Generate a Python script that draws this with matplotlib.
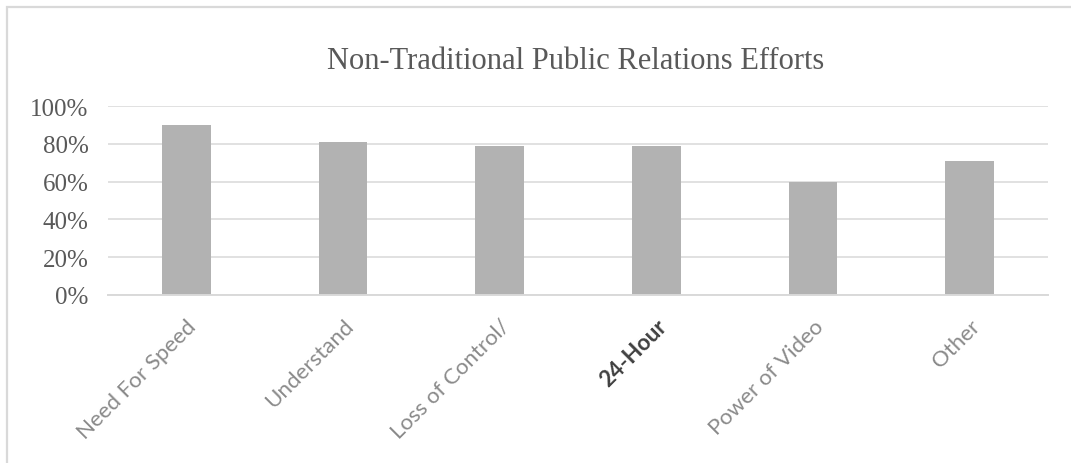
import matplotlib.pyplot as plt
from matplotlib.patches import Rectangle
from matplotlib.ticker import PercentFormatter

categories = ['Need For Speed', 'Understand', 'Loss of Control/', '24-Hour',
              'Power of Video', 'Other']
values = [0.90, 0.81, 0.79, 0.79, 0.60, 0.71]
y_ticks = [0, 0.2, 0.4, 0.6, 0.8, 1.0]

fig = plt.figure(figsize=(10.71, 4.64), dpi=100)
ax = fig.add_axes([0.1008, 0.3627, 0.8777, 0.4060])

# outer chart frame (only top/left visible in the crop)
fig.add_artist(Rectangle((7 / 1071, -0.2), 1.2, 1.2 - 8 / 464,
                         transform=fig.transFigure, fill=False,
                         edgecolor='#d9d9d9', linewidth=1.6, clip_on=False))

x = range(len(categories))
ax.bar(x, values, width=0.31, color='#b2b2b2', zorder=3)

ax.set_xlim(-0.5, len(categories) - 0.5)
ax.set_ylim(0, 1.0)
ax.set_yticks(y_ticks)
ax.yaxis.set_major_formatter(PercentFormatter(1.0, decimals=0))
ax.grid(axis='y', color='#d9d9d9', linewidth=1.1, zorder=0)

for side in ['top', 'right', 'left']:
    ax.spines[side].set_visible(False)
ax.spines['bottom'].set_color('#d9d9d9')
ax.spines['bottom'].set_linewidth(1.4)
ax.spines['bottom'].set_zorder(4)

ax.tick_params(axis='y', length=0, pad=14, labelsize=18, labelcolor='#595959')
ax.tick_params(axis='x', length=0, pad=15)
for lab in ax.get_yticklabels():
    lab.set_fontfamily('Liberation Serif')

ax.set_xticks(list(x))
ax.set_xticklabels(categories, rotation=45, ha='right', va='top',
                   rotation_mode='anchor', fontsize=16, family='Lato',
                   color='#8a8a8a')
lbl = ax.get_xticklabels()[3]
lbl.set_fontweight('bold')
lbl.set_color('#404040')

fig.text(0.537, 0.868, 'Non-Traditional Public Relations Efforts',
         ha='center', va='center', fontsize=22, family='Liberation Serif',
         color='#595959')

fig.savefig('out.png', dpi=100, facecolor='white')
